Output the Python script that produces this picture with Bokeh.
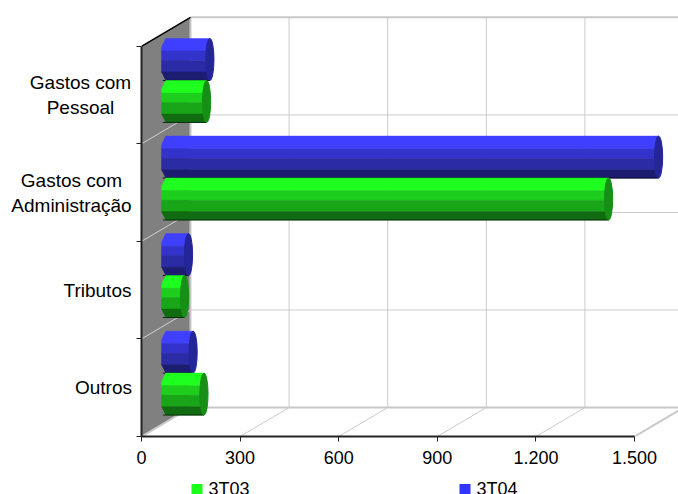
from bokeh.plotting import figure
from bokeh.layouts import column, row
from bokeh.models import Range1d, FixedTicker, LinearAxis
from bokeh.core.properties import value
from bokeh.embed import file_html
from bokeh.resources import INLINE

categories = ["Outros", "Tributos", "Gastos com\nAdministração", "Gastos com\nPessoal"]
series_names = ["3T03", "3T04"]
values_3t03 = [117, 58, 1348, 125]
values_3t04 = [84, 70, 1500, 135]
x_ticks = [0, 300, 600, 900, 1200, 1500]
x_labels = ["0", "300", "600", "900", "1.200", "1.500"]

green_bands = ["#1FFF1F", "#1DCE1D", "#18A518", "#116C11"]
blue_bands = ["#3F3FFF", "#3333CC", "#2B2BA6", "#1C1C70"]
green_end = "#178F17"
blue_end = "#25259A"
green_key = "#19FF19"
blue_key = "#3333FF"

DEPTH_X = 149.0     # back wall offset, in axis units
DEPTH_Y = 0.297     # back wall offset, in category units
BASE = 73.0         # where a cylinder's value zero sits
BAR_H = 0.43
END_W = 25.0
BAND_STOPS = [0.0, 0.3, 0.53, 0.80, 1.0]
CAT_LABEL_CX = [103, 97, 71, 80]   # x of each category label's centre in the label strip
LEG_KEY_X = [196.5, 464.5]
LEG_TEXT_X = [208, 476]
FONT = "Liberation Sans"
Y_TOP = 4.47
MAIN_H = 470
AXIS_H = 34

p = figure(width=542, height=MAIN_H, output_backend="svg", toolbar_location=None,
           x_range=Range1d(0, 1633.7), y_range=Range1d(0, Y_TOP),
           x_axis_type=None, y_axis_type=None,
           min_border_left=5, min_border_right=0, min_border_top=0, min_border_bottom=AXIS_H)
p.outline_line_color = None
p.grid.visible = False

# left wall
p.patch([0, DEPTH_X, DEPTH_X, 0], [0, DEPTH_Y, 4 + DEPTH_Y, 4], fill_color="#808080", line_color=None)

grid = "#CBCBCB"
# back wall grid
for t in x_ticks[1:]:
    p.line([t + DEPTH_X, t + DEPTH_X], [DEPTH_Y, 4 + DEPTH_Y], line_color=grid, line_width=1)
    p.line([t, t + DEPTH_X], [0, DEPTH_Y], line_color=grid, line_width=1)
for i in range(1, 4):
    p.line([DEPTH_X, 1700], [i + DEPTH_Y, i + DEPTH_Y], line_color=grid, line_width=1)
    p.line([0, DEPTH_X], [i, i + DEPTH_Y], line_color="#D0D0D0", line_width=1)
p.line([DEPTH_X, 1700], [4 + DEPTH_Y, 4 + DEPTH_Y], line_color="#C8C8C8", line_width=2)
p.line([DEPTH_X, 1700], [DEPTH_Y, DEPTH_Y], line_color="#C8C8C8", line_width=2)
p.line([DEPTH_X, DEPTH_X], [DEPTH_Y, 4 + DEPTH_Y], line_color="#C8C8C8", line_width=2)
p.line([0, DEPTH_X], [0, DEPTH_Y], line_color="#C8C8C8", line_width=2)
p.line([1500, 1500 + DEPTH_X], [0, DEPTH_Y], line_color="#C8C8C8", line_width=2)
p.line([0, DEPTH_X], [4, 4 + DEPTH_Y], line_color="#000000", line_width=1.5)


def chamfer(f):
    d = min(f, 1 - f)
    return max(0.0, 13.0 * (1 - d / 0.2))


def cylinder(val, yc, bands, end):
    bot = yc - BAR_H / 2
    for k, col in enumerate(bands):
        f0, f1 = BAND_STOPS[k], BAND_STOPS[k + 1]
        mids = [f0 + (f1 - f0) * s / 4 for s in range(5)]
        left = [BASE - 12 + chamfer(f) for f in mids]
        ys = [bot + BAR_H * (1 - f) for f in mids]
        p.patch(left + [BASE + val, BASE + val], ys + [ys[-1], ys[0]], fill_color=col, line_color=col, line_width=0.5)
    p.line([BASE - 8, BASE + val], [bot, bot], line_color="#0A0A30" if bands is blue_bands else "#0A300A", line_width=1)
    p.ellipse([BASE + val], [yc], width=END_W, height=BAR_H, fill_color=end, line_color=end)


for i in range(4):
    cylinder(values_3t04[i], i + 0.5 + 0.15 + BAR_H / 2, blue_bands, blue_end)
    cylinder(values_3t03[i], i + 0.5 + 0.15 - BAR_H / 2, green_bands, green_end)

xax = LinearAxis(ticker=FixedTicker(ticks=x_ticks), bounds=(0, 1500),
                 major_label_overrides={t: l for t, l in zip(x_ticks, x_labels)})
xax.major_label_text_font = FONT
xax.major_label_text_font_size = "18px"
xax.major_label_text_color = "#000000"
xax.axis_line_color = "#222222"
xax.axis_line_width = 2
xax.major_tick_line_color = "#222222"
xax.major_tick_out = 5
xax.major_tick_in = 0
xax.minor_tick_out = 0
xax.minor_tick_in = 0
xax.major_label_standoff = 9
p.add_layout(xax, "below")

yax = LinearAxis(ticker=FixedTicker(ticks=list(range(5))), bounds=(0, 4),
                 major_label_overrides={i: "" for i in range(5)})
yax.axis_line_color = "#222222"
yax.axis_line_width = 2
yax.major_tick_out = 5
yax.major_tick_in = 0
yax.minor_tick_out = 0
yax.minor_tick_in = 0
yax.major_label_standoff = 0
yax.major_tick_line_color = "#222222"
p.add_layout(yax, "left")

# category labels, on the same vertical scale as the chart
side = figure(width=136, height=MAIN_H, output_backend="svg", toolbar_location=None,
              x_range=Range1d(0, 136), y_range=Range1d(0, Y_TOP),
              x_axis_type=None, y_axis_type=None,
              min_border_left=0, min_border_right=0, min_border_top=0, min_border_bottom=AXIS_H)
side.outline_line_color = None
side.grid.visible = False
side.text(x=CAT_LABEL_CX, y=[i + 0.5 for i in range(4)], text=categories, text_align="center",
          text_baseline="middle", text_font=value(FONT), text_font_size="19px", text_color="#000000")

# legend strip
leg = figure(width=678, height=494 - MAIN_H, output_backend="svg", toolbar_location=None,
             x_range=Range1d(0, 678), y_range=Range1d(0, 494 - MAIN_H),
             x_axis_type=None, y_axis_type=None,
             min_border_left=0, min_border_right=0, min_border_top=0, min_border_bottom=0)
leg.outline_line_color = None
leg.grid.visible = False
leg.scatter(x=LEG_KEY_X, y=[5, 5], marker="square", size=11, fill_color=[green_key, blue_key], line_color=None)
leg.text(x=LEG_TEXT_X, y=[5.5, 5.5], text=series_names, text_align="left", text_baseline="middle",
         text_font=value(FONT), text_font_size="18px", text_color="#000000")

layout = column(row(side, p, spacing=0), leg, spacing=0)
open("out.html", "w").write(file_html(layout, INLINE))
